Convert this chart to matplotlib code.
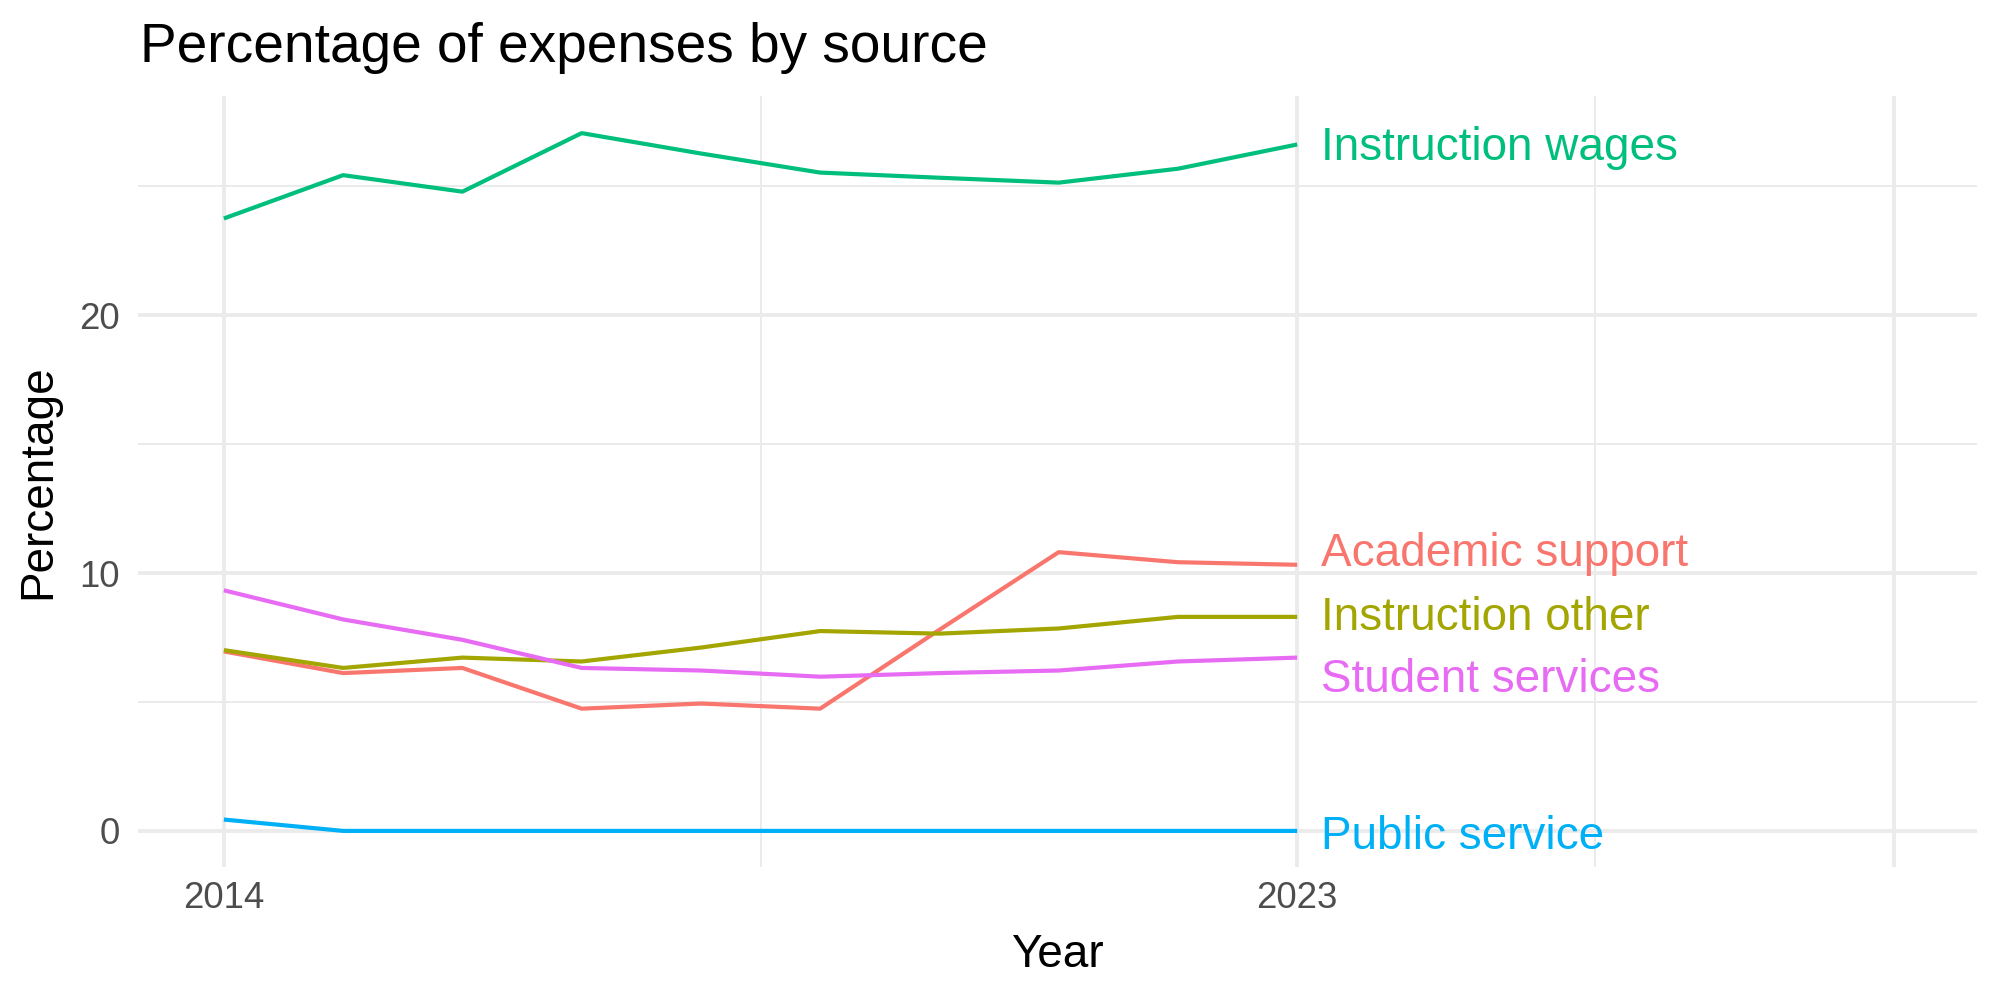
# Percentage of expenses by source, line chart with end labels
import numpy as np
import matplotlib.pyplot as plt

plt.rcParams['font.family'] = ['Liberation Sans', 'DejaVu Sans']

years = [2014, 2015, 2016, 2017, 2018, 2019, 2020, 2021, 2022, 2023]

academic_support = [6.96, 6.12, 6.32, 4.74, 4.94, 4.74, 7.8, 10.81, 10.42, 10.32]
instruction_other = [7.01, 6.32, 6.72, 6.57, 7.11, 7.75, 7.65, 7.85, 8.30, 8.30]
instruction_wages = [23.75, 25.43, 24.79, 27.06, 26.27, 25.53, 25.33, 25.14, 25.68, 26.62]
public_service = [0.44, 0, 0, 0, 0, 0, 0, 0, 0, 0]
student_services = [9.33, 8.20, 7.41, 6.32, 6.22, 5.98, 6.12, 6.22, 6.57, 6.72]

series_names = ["Academic support", "Instruction other", "Instruction wages",
                "Public service", "Student services"]
series_values = [academic_support, instruction_other, instruction_wages,
                 public_service, student_services]
colors = ["#F8766D", "#A3A500", "#00BF7D", "#00B0F6", "#E76BF3"]

# small vertical nudges so the end labels don't overlap (like ggrepel)
label_nudge = {"Academic support": 0.4, "Instruction other": -0.05,
               "Instruction wages": -0.15, "Public service": -0.25,
               "Student services": -0.85}

fig = plt.figure(figsize=(10, 5), dpi=200)
ax = fig.add_axes([0.069, 0.133, 0.9195, 0.771])

grid_col = "#EBEBEB"
ax.set_xlim(2013.28, 2028.7)
ax.set_ylim(-1.4, 28.5)

ax.set_xticks([2014, 2023, 2028])
ax.set_xticklabels(["2014", "2023", ""])
ax.set_xticks([2018.5, 2025.5], minor=True)
ax.set_yticks([0, 10, 20])
ax.set_yticks([5, 15, 25], minor=True)

ax.grid(True, which="major", color=grid_col, linewidth=1.4)
ax.grid(True, which="minor", color=grid_col, linewidth=0.7)
ax.set_axisbelow(True)
for s in ax.spines.values():
    s.set_visible(False)
ax.tick_params(which="both", length=0)
ax.tick_params(axis="both", labelsize=13.2, labelcolor="#4D4D4D")
ax.tick_params(axis="x", pad=5)
ax.tick_params(axis="y", pad=6.5)

for name, vals, col in zip(series_names, series_values, colors):
    ax.plot(years, vals, color=col, linewidth=1.5, solid_capstyle="butt")
    ax.text(years[-1] + 0.2, vals[-1] + label_nudge[name], name, color=col,
            fontsize=16.5, ha="left", va="center")

ax.set_xlabel("Year", fontsize=16.5, labelpad=6)
ax.set_ylabel("Percentage", fontsize=16.5, labelpad=7)
fig.text(0.07, 0.952, "Percentage of expenses by source", fontsize=19.8,
         ha="left", va="center")

fig.savefig("out.png", dpi=200)
